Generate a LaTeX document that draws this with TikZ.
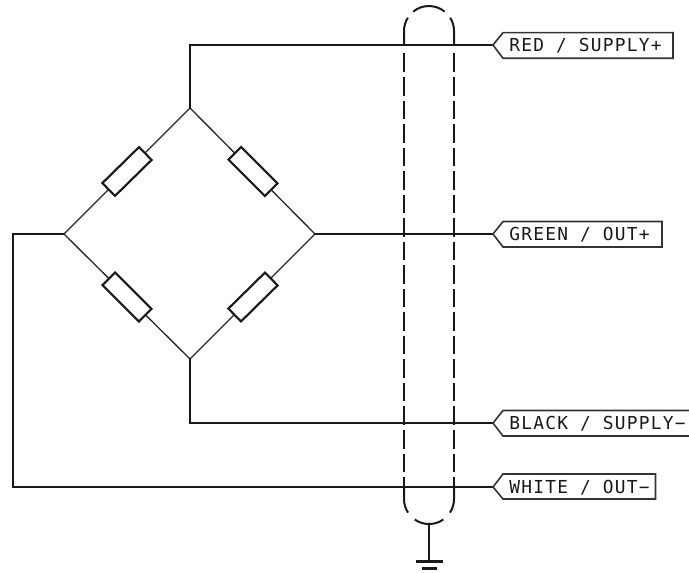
\documentclass[tikz,border=0pt]{standalone}
\usepackage{fontspec}
\newfontfamily\tagfont[LetterSpace=7]{DejaVu Sans Mono}
\tikzset{
  x=0.75pt,y=-0.75pt,
  wire/.style={line width=1.6pt,black!90,line cap=round,line join=miter},
  arm/.style={line width=1pt,black!85},
  resistor/.style={draw=black!90,line width=1.6pt,fill=white,minimum width=38.5pt,minimum height=13.5pt,inner sep=0pt},
  shield/.style={line width=1.5pt,black!90},
  shielddash/.style={shield,dash pattern=on 13.9pt off 3.75pt},
  tag/.style={line width=1.2pt,black!80,line join=miter},
  tagtext/.style={font=\tagfont\fontsize{13.4pt}{15pt}\selectfont,anchor=west,inner sep=0pt,text=black!90},
}
\begin{document}
\begin{tikzpicture}
\useasboundingbox (0,0) rectangle (689,573);
% bridge corners
\coordinate (T) at (190,108);
\coordinate (R) at (315,234);
\coordinate (L) at (64,234);
\coordinate (B) at (190,359);
% wire ends (tag tips)
\coordinate (tipRed) at (493,45);
\coordinate (tipGreen) at (493,234);
\coordinate (tipBlack) at (493,423);
\coordinate (tipWhite) at (493,487);
% bridge arms
\draw[arm] (T) -- (L) -- (B) -- (R) -- cycle;
\node[resistor,rotate=44.5] (r1) at (127,171.5) {};
\node[resistor,rotate=-45] (r2) at (253,171.5) {};
\node[resistor,rotate=-45] (r3) at (127,297) {};
\node[resistor,rotate=44.5] (r4) at (253,297) {};
% wires
\draw[wire] (T) -- (190,45) -- (tipRed);
\draw[wire] (R) -- (tipGreen);
\draw[wire] (B) -- (190,423) -- (tipBlack);
\draw[wire] (L) -- (13,234) -- (13,487) -- (tipWhite);
% shield
\draw[shielddash] (404,53.5) -- (404,487);
\draw[shielddash] (454,53.5) -- (454,487);
\draw[shield] (404,45) -- (404,31) arc[start angle=180,end angle=212,radius=25];
\draw[shield] (454,45) -- (454,31) arc[start angle=0,end angle=-32,radius=25];
\draw[shield] (413.2,11.6) arc[start angle=231,end angle=309,radius=25];
\coordinate (gtop) at (429,524);
\coordinate (gnd) at (429,561.5);
\draw[shield] (404,487) -- (404,499) arc[start angle=180,end angle=147,radius=25];
\draw[shield] (454,487) -- (454,499) arc[start angle=0,end angle=33,radius=25];
\draw[shield] (414.7,519.5) arc[start angle=125,end angle=55,radius=25];
\draw[wire,line cap=butt] (gtop) -- (gnd);
\draw[wire,line cap=butt] (416,561.5) -- (443,561.5);
\draw[wire,line cap=butt] (422,568.5) -- (436.5,568.5);
% tags
\draw[tag] (tipRed) -- (503,32.7) -- (673,32.7) -- (673,58.3) -- (503,58.3) -- cycle;
\node[tagtext] (tRed) at (509,45.5) {RED / SUPPLY+};
\draw[tag] (tipGreen) -- (503,221.5) -- (662,221.5) -- (662,247) -- (503,247) -- cycle;
\node[tagtext] (tGreen) at (509,234.5) {GREEN / OUT+};
\draw[tag] (689,410.5) -- (503,410.5) -- (tipBlack) -- (503,436) -- (689,436);
\node[tagtext] (tBlack) at (509,423.5) {BLACK / SUPPLY−};
\draw[tag] (tipWhite) -- (503,474) -- (655.5,474) -- (655.5,499) -- (503,499) -- cycle;
\node[tagtext] (tWhite) at (509,487.5) {WHITE / OUT−};
\end{tikzpicture}
\end{document}
